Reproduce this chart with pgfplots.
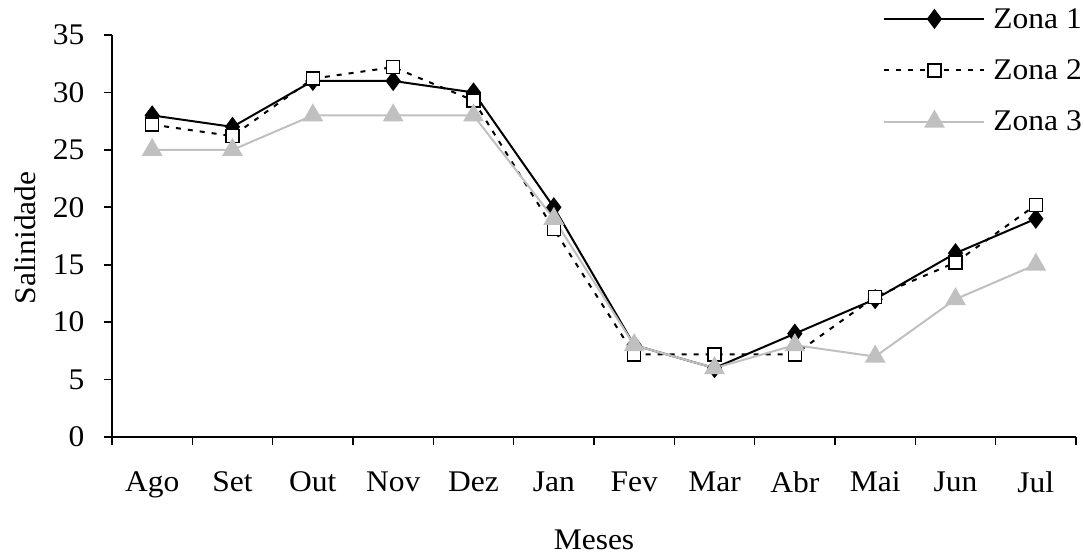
\documentclass[border=0pt]{standalone}
\usepackage{pgfplots}
\pgfplotsset{compat=1.18}
\usepackage{fontspec}
\setmainfont{Liberation Serif}[FakeStretch=1.05]
\definecolor{zgray}{RGB}{192,192,192}
\begin{document}
\begin{tikzpicture}
\begin{axis}[
  name=ax,
  scale only axis,
  width=964pt, height=402pt,
  xmin=0, xmax=12, ymin=0, ymax=35,
  axis lines=left,
  axis line style={line width=1.6pt,-},
  every tick/.style={line width=1.6pt,black},
  tick align=outside,
  xtick={0.5,1.5,...,11.5},
  xticklabels={Ago,Set,Out,Nov,Dez,Jan,Fev,Mar,Abr,Mai,Jun,Jul},
  major x tick style={draw=none},
  minor xtick={0,1,...,12},
  minor tick length=8pt,
  ytick={0,5,...,35},
  major tick length=8pt,
  /pgf/number format/assume math mode=true,
  ticklabel style={font=\fontsize{30}{35}\selectfont},
  xticklabel shift=23pt,
  yticklabel shift=16pt,
  xlabel={Meses},
  ylabel={Salinidade},
  label style={font=\fontsize{30}{35}\selectfont},
  xlabel style={at={(rel axis cs:0.5,-0.256)},anchor=center},
  ylabel style={at={(rel axis cs:-0.0902,0.495)},anchor=center,rotate=0},
  legend style={at={(rel axis cs:1.0083,1.072)},anchor=north east,draw=none,fill=none,
    font=\fontsize{30}{35}\selectfont,row sep=26pt,inner sep=0pt,
    /tikz/every odd column/.style={column sep=6pt}},
  legend cell align=left,
  legend image code/.code={\draw[mark repeat=2,mark phase=2,#1] plot coordinates {(0pt,0pt)(50pt,0pt)(100pt,0pt)};},
  clip=false,
]
\addplot[black,line width=2pt,mark=diamond*,mark size=8.5pt,mark options={solid,fill=black}]
  coordinates {(0.5,28)(1.5,27)(2.5,31)(3.5,31)(4.5,30)(5.5,20)(6.5,8)(7.5,6)(8.5,9)(9.5,12)(10.5,16)(11.5,19)};
\addlegendentry{Zona 1}
\addplot[black,line width=2pt,dash pattern=on 5pt off 7pt,mark=square*,mark size=6.5pt,mark options={solid,fill=white,line width=1.6pt}]
  coordinates {(0.5,27.2)(1.5,26.2)(2.5,31.2)(3.5,32.2)(4.5,29.3)(5.5,18.1)(6.5,7.2)(7.5,7.2)(8.5,7.2)(9.5,12.2)(10.5,15.2)(11.5,20.2)};
\addlegendentry{Zona 2}
\addplot[zgray,line width=2pt,mark=triangle*,mark size=10pt,mark options={solid,fill=zgray,draw=zgray}]
  coordinates {(0.5,25)(1.5,25)(2.5,28)(3.5,28)(4.5,28)(5.5,19)(6.5,8)(7.5,6)(8.5,8)(9.5,7)(10.5,12)(11.5,15)};
\addlegendentry{Zona 3}
\end{axis}
\pgfresetboundingbox
\path[use as bounding box] ([shift={(-112pt,-119pt)}]ax.south west) rectangle ([shift={(8pt,35pt)}]ax.north east);
\end{tikzpicture}
\end{document}
